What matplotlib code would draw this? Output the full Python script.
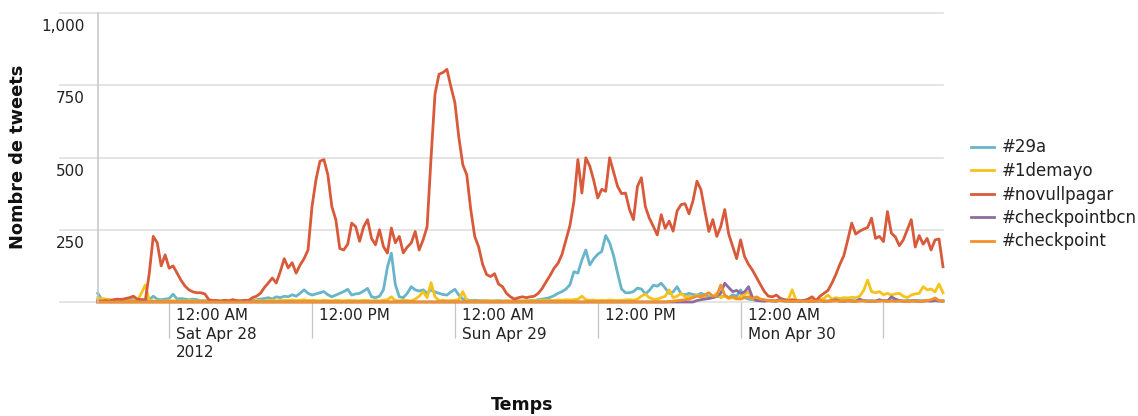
#!/usr/bin/env python3
"""Hashtag tweet counts, 27-30 April 2012."""

import matplotlib
matplotlib.use('Agg')
import matplotlib.pyplot as plt
import matplotlib.dates as mdates
import pandas as pd

# 20-minute bins starting 6:00 PM, Fri Apr 27 2012
START = '2012-04-27 18:00'
FREQ = '20min'

tag_29a = [
    30, 10, 5, 8, 5, 8, 10, 8, 10, 8,
    5, 8, 10, 8, 20, 10, 8, 10, 12, 27,
    10, 12, 10, 8, 10, 8, 5, 5, 3, 3,
    4, 3, 5, 3, 4, 3, 5, 4, 3, 5,
    8, 10, 12, 15, 10, 18, 15, 20, 18, 25,
    20, 30, 42, 30, 24, 28, 32, 36, 25, 18,
    24, 30, 36, 44, 24, 28, 30, 38, 47, 18,
    15, 20, 42, 120, 169, 60, 18, 15, 30, 53,
    42, 38, 42, 30, 42, 35, 30, 26, 24, 35,
    44, 24, 10, 8, 5, 6, 5, 4, 5, 3,
    4, 5, 3, 4, 3, 5, 4, 3, 4, 5,
    5, 8, 10, 12, 16, 22, 30, 36, 45, 60,
    105, 100, 145, 180, 128, 150, 165, 175, 230, 205,
    160, 100, 45, 32, 32, 36, 48, 45, 28, 40,
    58, 55, 65, 48, 30, 35, 53, 28, 25, 30,
    26, 24, 30, 25, 18, 15, 20, 18, 20, 15,
    25, 20, 42, 15, 10, 8, 5, 6, 4, 5,
    3, 4, 5, 3, 4, 6, 3, 4, 5, 3,
    4, 3, 5, 4, 3, 5, 4, 6, 5, 4,
    5, 4, 6, 5, 4, 5, 3, 4, 6, 5,
    4, 5, 3, 4, 5, 4, 6, 5, 4, 5,
    4, 5, 3, 4,
]

tag_1demayo = [
    15, 12, 10, 8, 5, 5, 4, 5, 4, 5,
    5, 30, 59, 5, 4, 3, 4, 3, 5, 4,
    3, 4, 3, 5, 4, 3, 4, 3, 4, 3,
    4, 3, 5, 4, 3, 4, 3, 5, 4, 3,
    5, 4, 3, 5, 6, 4, 5, 6, 5, 7,
    5, 6, 8, 5, 6, 5, 4, 6, 5, 4,
    6, 5, 4, 6, 5, 5, 4, 6, 5, 4,
    5, 4, 6, 8, 18, 5, 4, 6, 5, 4,
    10, 20, 36, 15, 67, 18, 5, 6, 4, 5,
    6, 8, 36, 5, 4, 3, 4, 3, 5, 4,
    3, 4, 3, 4, 3, 4, 3, 4, 5, 4,
    5, 4, 6, 5, 6, 5, 7, 6, 8, 7,
    8, 10, 20, 8, 6, 7, 5, 6, 5, 7,
    6, 5, 6, 7, 8, 6, 10, 20, 27, 15,
    10, 10, 15, 20, 42, 15, 20, 30, 18, 20,
    15, 24, 18, 15, 12, 18, 30, 15, 20, 12,
    15, 10, 20, 25, 36, 10, 8, 6, 5, 4,
    5, 6, 4, 8, 8, 42, 5, 4, 6, 5,
    8, 6, 10, 12, 24, 10, 15, 12, 15, 14,
    16, 15, 20, 40, 76, 36, 32, 36, 25, 30,
    24, 28, 30, 20, 15, 24, 28, 30, 53, 42,
    45, 35, 62, 32,
]

tag_novullpagar = [
    5, 3, 5, 3, 8, 10, 8, 12, 15, 20,
    10, 8, 5, 100, 227, 205, 125, 163, 117, 125,
    100, 75, 55, 42, 35, 32, 32, 28, 8, 5,
    5, 3, 6, 4, 8, 5, 3, 6, 5, 15,
    20, 30, 50, 66, 83, 66, 105, 150, 118, 136,
    100, 128, 150, 180, 330, 423, 487, 493, 440, 330,
    285, 185, 180, 200, 273, 261, 210, 260, 285, 220,
    198, 250, 192, 169, 256, 205, 227, 170, 190, 204,
    244, 180, 215, 260, 500, 720, 788, 794, 805, 745,
    690, 570, 475, 440, 320, 227, 190, 130, 95, 88,
    98, 62, 53, 30, 18, 10, 15, 18, 15, 18,
    20, 30, 47, 70, 92, 117, 134, 165, 215, 265,
    348, 493, 377, 499, 470, 420, 360, 390, 383, 499,
    450, 400, 375, 377, 320, 285, 400, 430, 330, 290,
    262, 232, 302, 255, 280, 245, 315, 337, 340, 305,
    350, 418, 389, 315, 244, 285, 227, 261, 320, 235,
    192, 150, 215, 157, 130, 110, 85, 60, 36, 20,
    18, 24, 13, 8, 5, 8, 5, 3, 5, 10,
    18, 5, 20, 30, 40, 65, 95, 130, 160, 215,
    273, 235, 245, 252, 258, 290, 220, 227, 209, 313,
    238, 225, 195, 215, 250, 285, 190, 230, 200, 220,
    180, 215, 218, 122,
]

tag_checkpointbcn = [
    0, 0, 0, 0, 0, 0, 0, 0, 0, 0,
    0, 0, 0, 0, 0, 0, 0, 0, 0, 0,
    0, 0, 0, 0, 0, 0, 0, 0, 0, 0,
    0, 0, 0, 0, 0, 0, 0, 0, 0, 0,
    0, 0, 0, 0, 0, 0, 0, 0, 0, 0,
    0, 0, 0, 0, 0, 0, 0, 0, 0, 0,
    0, 0, 0, 0, 0, 0, 0, 0, 0, 0,
    0, 0, 0, 0, 0, 0, 0, 0, 0, 0,
    0, 0, 0, 0, 0, 0, 0, 0, 0, 0,
    0, 0, 0, 0, 0, 0, 0, 0, 0, 0,
    0, 0, 0, 0, 0, 0, 0, 0, 0, 0,
    0, 0, 0, 0, 0, 0, 0, 0, 0, 0,
    0, 0, 0, 0, 0, 0, 0, 0, 0, 0,
    0, 0, 0, 0, 0, 0, 0, 0, 0, 0,
    0, 0, 0, 0, 0, 0, 0, 0, 0, 0,
    0, 5, 8, 10, 12, 15, 20, 30, 65, 50,
    36, 40, 30, 35, 53, 15, 5, 4, 3, 5,
    4, 3, 10, 5, 3, 2, 4, 3, 5, 3,
    2, 3, 4, 2, 3, 4, 8, 3, 2, 4,
    3, 2, 10, 4, 3, 2, 3, 8, 4, 3,
    18, 10, 5, 3, 2, 4, 3, 2, 3, 4,
    3, 5, 4, 3,
]

tag_checkpoint = [
    0, 0, 0, 0, 0, 0, 0, 0, 0, 0,
    0, 0, 0, 0, 0, 0, 0, 0, 0, 0,
    0, 0, 0, 0, 0, 0, 0, 0, 0, 0,
    0, 0, 0, 0, 0, 0, 0, 0, 0, 0,
    0, 0, 0, 0, 0, 0, 0, 0, 0, 0,
    0, 0, 0, 0, 0, 0, 0, 0, 0, 0,
    0, 0, 0, 0, 0, 0, 0, 0, 0, 0,
    0, 0, 0, 0, 0, 0, 0, 0, 0, 0,
    0, 0, 0, 0, 0, 0, 0, 0, 0, 0,
    0, 0, 0, 0, 0, 0, 0, 0, 0, 0,
    0, 0, 0, 0, 0, 0, 0, 0, 0, 0,
    0, 0, 0, 0, 0, 0, 0, 0, 0, 0,
    0, 0, 0, 0, 0, 0, 0, 0, 0, 0,
    0, 0, 0, 0, 0, 0, 0, 0, 0, 0,
    0, 0, 0, 0, 2, 3, 5, 6, 8, 10,
    15, 20, 18, 25, 32, 20, 22, 59, 24, 15,
    18, 12, 10, 15, 18, 12, 18, 10, 8, 5,
    4, 3, 5, 3, 4, 2, 3, 4, 2, 3,
    2, 3, 4, 3, 2, 3, 4, 2, 3, 4,
    3, 2, 3, 4, 2, 3, 2, 3, 4, 2,
    3, 2, 4, 3, 2, 3, 4, 2, 3, 5,
    8, 14, 5, 3,
]

SERIES = [
    ('#29a', tag_29a, '#67b5ca'),
    ('#1demayo', tag_1demayo, '#f7c21b'),
    ('#novullpagar', tag_novullpagar, '#d85a3a'),
    ('#checkpointbcn', tag_checkpointbcn, '#8e6ca3'),
    ('#checkpoint', tag_checkpoint, '#f39028'),
]

Y_TICKS = [250, 500, 750, 1000]

TICK_TIMES = ['2012-04-28 00:00', '2012-04-28 12:00', '2012-04-29 00:00',
              '2012-04-29 12:00', '2012-04-30 00:00', '2012-04-30 12:00']
TICK_LABELS = ['12:00 AM\nSat Apr 28\n2012', '12:00 PM', '12:00 AM\nSun Apr 29',
               '12:00 PM', '12:00 AM\nMon Apr 30', '']

W, H = 1138, 416
TEXT = '#222222'
GRID = '#dcdcdc'
AXIS = '#c4c4c4'

plt.rcParams['font.family'] = ['DejaVu Sans']

fig = plt.figure(figsize=(W / 100, H / 100), dpi=100)
left, right, top, bottom = 97.7, 943, 13, 302
ax = fig.add_axes([left / W, 1 - bottom / H, (right - left) / W, (bottom - top) / H])

times = pd.date_range(START, periods=len(tag_novullpagar), freq=FREQ)
for name, values, color in SERIES:
    ax.plot(times, values, color=color, lw=2.0, label=name,
            solid_joinstyle='round', clip_on=False)

ax.set_xlim(times[0], times[-1])
ax.set_ylim(0, 1000)

# horizontal grid reaching out to the left of the plot
ext = -(left - 60) / (right - left)
for y in [0] + Y_TICKS:
    ax.axhline(y, xmin=ext, xmax=1, color=GRID, lw=1.1, clip_on=False, zorder=0)
    if y:
        ax.annotate(f'{y:,}', xy=(0, y), xycoords=('axes fraction', 'data'),
                    xytext=(-13, -6), textcoords='offset pixels',
                    ha='right', va='top', fontsize=11, color=TEXT)

for s in ['top', 'right', 'bottom']:
    ax.spines[s].set_visible(False)
ax.spines['left'].set_color(AXIS)
ax.spines['left'].set_linewidth(1.1)

ax.set_yticks([])
tick_pos = pd.to_datetime(TICK_TIMES)
ax.set_xticks(tick_pos)
ax.set_xticklabels([])
ax.tick_params(axis='x', length=26, width=0.9, color=AXIS, direction='out')
for t, lab in zip(tick_pos, TICK_LABELS):
    ax.annotate(lab, xy=(mdates.date2num(t), 0), xycoords=('data', 'axes fraction'),
                xytext=(7, -6), textcoords='offset pixels', ha='left', va='top',
                fontsize=11, color=TEXT, linespacing=1.3)

fig.text(18 / W, 1 - 157 / H, 'Nombre de tweets', rotation=90, ha='center',
         va='center', fontsize=12.8, fontweight='bold', color='#111111')
fig.text(522 / W, 1 - 405 / H, 'Temps', ha='center', va='center',
         fontsize=12.5, fontweight='bold', color='#111111')

fig.legend(loc='upper left', bbox_to_anchor=(971 / W, 1 - 138.5 / H),
           frameon=False, fontsize=12, handlelength=1.4, handletextpad=0.45,
           labelspacing=0.33, borderpad=0, borderaxespad=0, labelcolor=TEXT)

fig.savefig('out.png', dpi=100)
plt.close(fig)
